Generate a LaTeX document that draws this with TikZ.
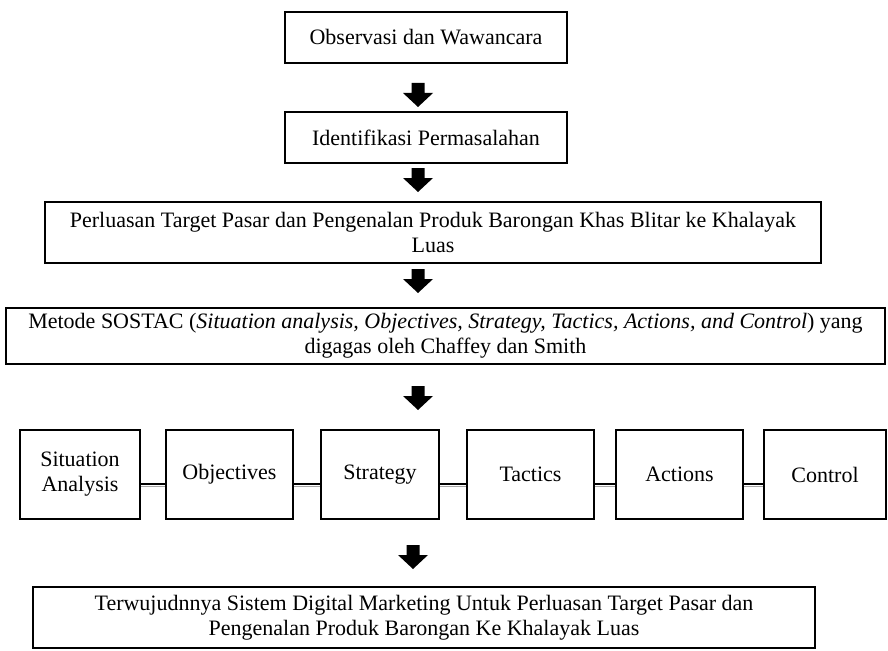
\documentclass[tikz,border=0pt]{standalone}
\usepackage{fontspec}
\setmainfont{Liberation Serif}
\begin{document}
\begin{tikzpicture}[x=1pt,y=-1pt,
  box/.style={draw=black, line width=1.6pt, inner sep=0pt, align=center,
    font=\fontsize{22}{25}\selectfont},
  link/.style={draw=black, line width=1.8pt},
  linkshade/.style={draw=black!35, line width=1.8pt},
  blockarrow/.pic={\fill[black] (-6.5,0) -- (6.5,0) -- (6.5,10) -- (15,10) -- (0,24) -- (-15,10) -- (-6.5,10) -- cycle;}
]
\useasboundingbox (0,0) rectangle (888,650);

% main column
\node[box, minimum width=282pt, minimum height=51pt] (obs) at (426,37.5) {Observasi dan Wawancara};
\node[box, minimum width=282pt, minimum height=51pt] (idf) at (426,137.5) {Identifikasi Permasalahan};
\node[box, minimum width=776pt, minimum height=61pt] (prl) at (433,232.5)
  {Perluasan Target Pasar dan Pengenalan Produk Barongan Khas Blitar ke Khalayak\\Luas};
\node[box, minimum width=879pt, minimum height=56pt] (sos) at (445.5,336)
  {Metode SOSTAC (\textit{Situation analysis, Objectives, Strategy, Tactics, Actions, and Control}) yang\\digagas oleh Chaffey dan Smith};

% SOSTAC row
\node[box, minimum width=120pt, minimum height=89pt] (sa) at (80,474.5) {Situation\\Analysis};
\node[box, minimum width=127pt, minimum height=89pt] (ob) at (229.5,474.5) {Objectives};
\node[box, minimum width=118pt, minimum height=89pt] (st) at (380,474.5) {Strategy};
\node[box, minimum width=127pt, minimum height=89pt] (ta) at (530.5,474.5) {Tactics};
\node[box, minimum width=127pt, minimum height=89pt] (ac) at (679.5,474.5) {Actions};
\node[box, minimum width=122pt, minimum height=89pt] (co) at (825,474.5) {Control};

\node[box, minimum width=782pt, minimum height=61pt] (res) at (424,617.5)
  {Terwujudnnya Sistem Digital Marketing Untuk Perluasan Target Pasar dan\\Pengenalan Produk Barongan Ke Khalayak Luas};

% row connectors
\foreach \a/\b in {sa/ob, ob/st, st/ta, ta/ac, ac/co}{
  \draw[linkshade] ([yshift=-12pt]\a.east) -- ([yshift=-12pt]\b.west);
  \draw[link] ([yshift=-9.5pt]\a.east) -- ([yshift=-9.5pt]\b.west);
}

% block arrows
\coordinate (a1) at (418,83);
\coordinate (a2) at (418,168);
\coordinate (a3) at (418,269);
\coordinate (a4) at (418,386);
\coordinate (a5) at (413,545);
\foreach \c in {a1,a2,a3,a4,a5}{ \pic at (\c) {blockarrow}; }
\end{tikzpicture}
\end{document}
